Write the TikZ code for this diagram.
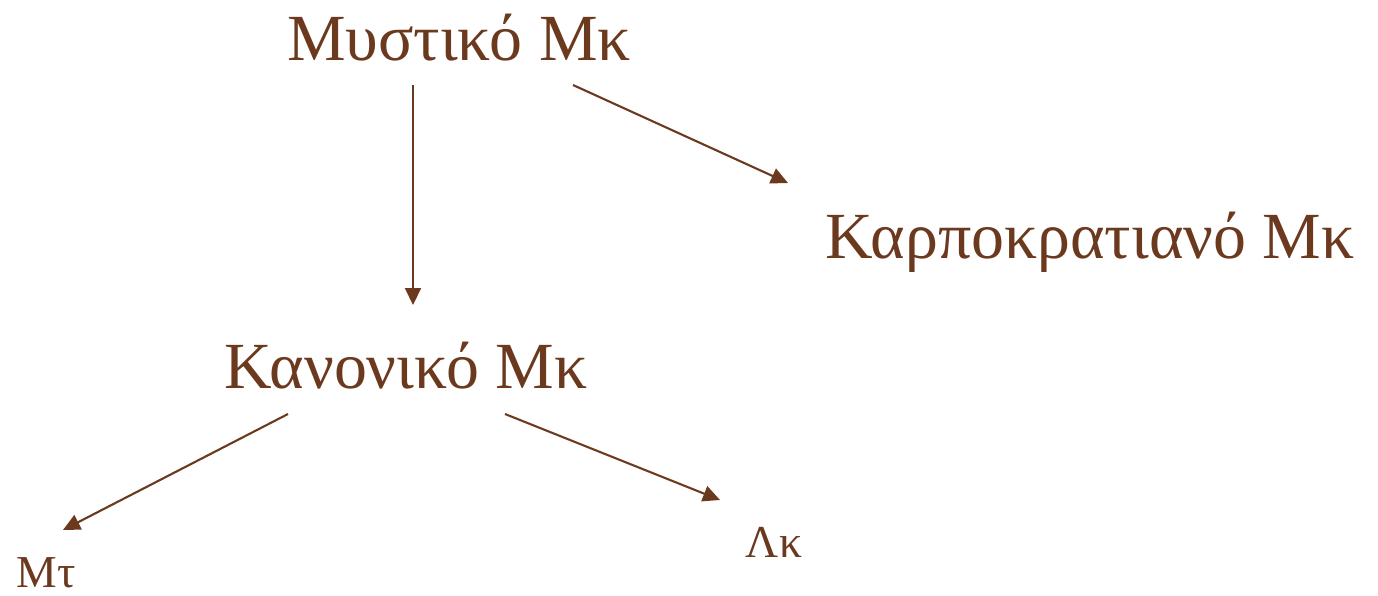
\documentclass[tikz,border=0pt]{standalone}
\usepackage{fontspec}
\setmainfont{Liberation Serif}
\usetikzlibrary{arrows.meta}
\definecolor{brn}{RGB}{107,58,30}
\tikzset{
  big/.style={text=brn, anchor=base, inner sep=0pt, font=\fontsize{37.5}{42}\selectfont},
  small/.style={text=brn, anchor=base, inner sep=0pt, font=\fontsize{26}{30}\selectfont},
  arr/.style={draw=brn, line width=1.2pt, -{Triangle[length=0.34cm,width=0.32cm]}}
}
\begin{document}
\begin{tikzpicture}[x=0.02cm,y=-0.02cm]
\useasboundingbox (0,0) rectangle (1378,595);
\node[big] (top) at (459,60) {Μυστικό Μκ};
\node[big] (karp) at (1090,258) {Καρποκρατιανό Μκ};
\node[big] (kan) at (406,388) {Κανονικό Μκ};
\node[small] (mt) at (46,587) {Μτ};
\node[small] (lk) at (774,557) {Λκ};
\coordinate (a1) at (413,85);
\coordinate (a2) at (413,305);
\coordinate (b1) at (573,85);
\coordinate (b2) at (788,183);
\coordinate (c1) at (288,414);
\coordinate (c2) at (63,530);
\coordinate (d1) at (505,414);
\coordinate (d2) at (720,500);
\draw[arr] (a1) -- (a2);
\draw[arr] (b1) -- (b2);
\draw[arr] (c1) -- (c2);
\draw[arr] (d1) -- (d2);
\end{tikzpicture}
\end{document}
